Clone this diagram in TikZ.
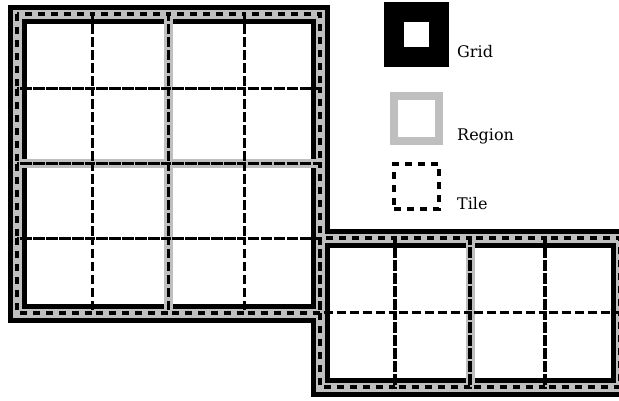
\documentclass[tikz,border=0pt]{standalone}
\usepackage{xcolor}
\usepackage{fontspec}
\setmainfont{DejaVu Serif}
\usepackage{tikz}
\definecolor{regionGrey}{HTML}{BFBFBF}
\tikzset{
  gridline/.style   = {draw=black, line width=19pt},
  regionline/.style = {draw=regionGrey, line width=9pt},
  tileline/.style   = {draw=black, line width=3.3pt, dash pattern=on 7pt off 6pt},
  key/.style        = {minimum size=45pt, inner sep=0pt, outer sep=0pt},
  keylbl/.style     = {font=\fontsize{16}{19}\selectfont, anchor=base west, inner sep=0pt}
}

\begin{document}
\begin{tikzpicture}[x=1pt, y=-1pt]
  \useasboundingbox (0,0) rectangle (619,400);
  \draw[gridline] (17,14) rectangle (320,313);
  \draw[gridline] (320,238) rectangle (620,387);
  \foreach \i in {0,1} \foreach \j in {0,1}
    \draw[regionline] ({17+151.5*\i},{14+149.5*\j}) rectangle +(151.5,149.5);
  \foreach \i in {0,1}
    \draw[regionline] ({320+150*\i},238) rectangle +(150,149);
  \foreach \i in {0,...,3} \foreach \j in {0,...,3}
    \draw[tileline] ({17+75.75*\i},{14+74.75*\j}) rectangle +(75.75,74.75);
  \foreach \i in {0,...,3} \foreach \j in {0,1}
    \draw[tileline] ({320+75*\i},{238+74.5*\j}) rectangle +(75,74.5);
  \node[key, draw, line width=20pt] (gridkey) at (416.5,34.5) {};
  \node[key, regionline, line width=8pt] (regionkey) at (416.5,118) {};
  \node[key, tileline] (tilekey) at (416.5,186.5) {};
  \node[keylbl] (gridlbl) at ([xshift=18pt]gridkey.south east) {Grid};
  \node[keylbl] (regionlbl) at ([xshift=18pt]regionkey.south east) {Region};
  \node[keylbl] (tilelbl) at ([xshift=18pt]tilekey.south east) {Tile};
\end{tikzpicture}
\end{document}
